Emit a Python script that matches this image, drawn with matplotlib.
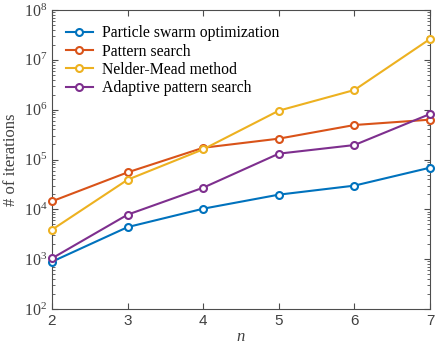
import matplotlib.pyplot as plt
import numpy as np

plt.rcParams['font.family'] = ['Liberation Serif', 'DejaVu Serif']
plt.rcParams['mathtext.fontset'] = 'custom'
plt.rcParams['mathtext.rm'] = 'Liberation Sans'
plt.rcParams['mathtext.it'] = 'Liberation Sans:italic'

n = [2, 3, 4, 5, 6, 7]
pso = [890, 4400, 10300, 19700, 29900, 68500]
pattern = [14500, 55200, 172000, 262000, 492000, 630000]
nelder = [3900, 39300, 160000, 955000, 2.48e6, 2.62e7]
adaptive = [1040, 7820, 27200, 131000, 195000, 818000]

labels = ['Particle swarm optimization', 'Pattern search',
          'Nelder-Mead method', 'Adaptive pattern search']
colors = ['#0072BD', '#D95319', '#EDB120', '#7E2F8E']

fig = plt.figure(figsize=(4.36, 3.51), dpi=100)
ax = fig.add_axes([52 / 436, 1 - 309 / 351, 378 / 436, 299 / 351])

for ys, lab, c in zip([pso, pattern, nelder, adaptive], labels, colors):
    ax.plot(n, ys, '-o', color=c, lw=1.5, ms=5, mfc='white', mew=1.5,
            label=lab, clip_on=False, zorder=3)

ax.set_yscale('log')
ax.set_xlim(2, 7)
ax.set_ylim(1e2, 1e8)
ax.set_xticks(n)
ax.set_yticks([10.0 ** k for k in range(2, 9)])
ax.tick_params(which='both', direction='in', top=True, right=True,
               colors='#4d4d4d', labelcolor='#404040')
ax.tick_params(axis='y', labelsize=11.5)
ax.tick_params(axis='x', labelsize=11)
ax.tick_params(which='major', length=4)
ax.tick_params(which='minor', length=2)
for lbl in ax.get_xticklabels():
    lbl.set_family('Liberation Sans')
for s in ax.spines.values():
    s.set_color('#4d4d4d')
    s.set_linewidth(0.8)

ax.set_xlabel('n', fontsize=12, style='italic', color='#404040', labelpad=1)
ax.set_ylabel('# of iterations', fontsize=12, color='#404040', labelpad=3)

ax.legend(loc='upper left', frameon=False, fontsize=11.3, handlelength=1.7,
          borderaxespad=0.0, labelspacing=0.15, handletextpad=0.6,
          bbox_to_anchor=(0.02, 0.97))

fig.savefig('out.png', dpi=100)
